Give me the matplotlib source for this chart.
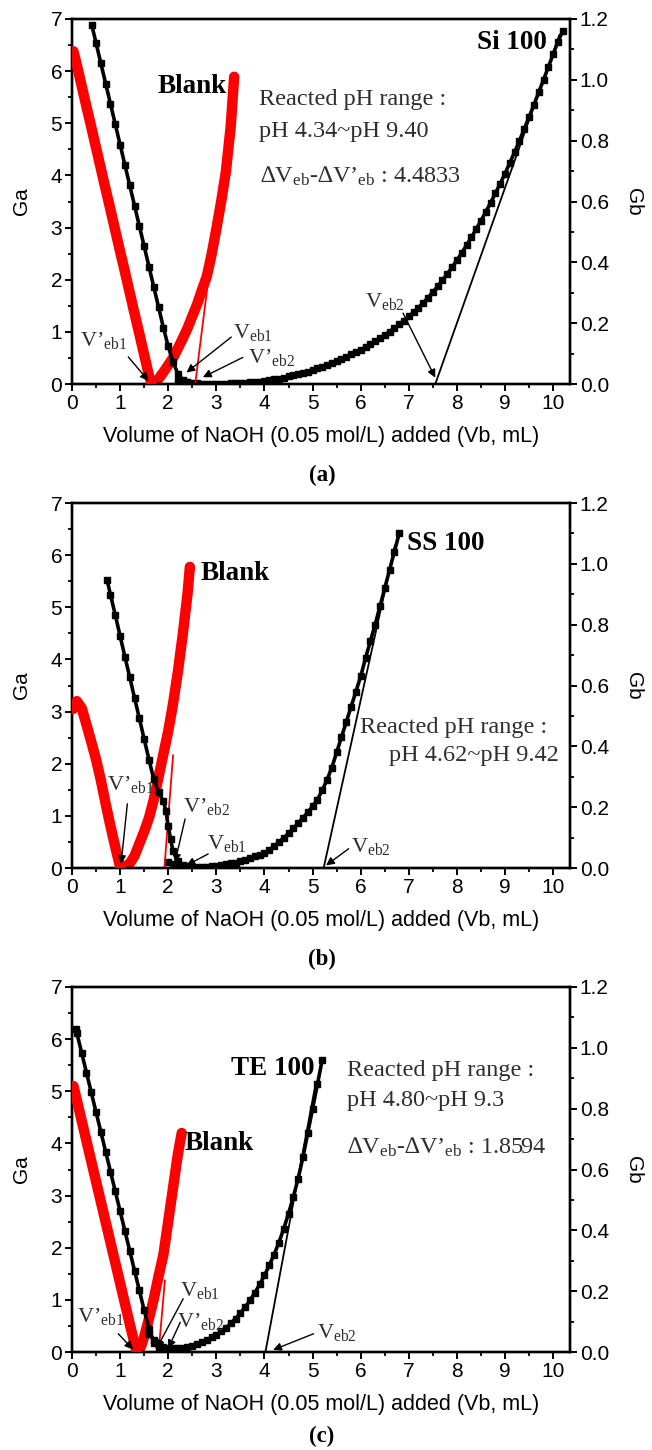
import numpy as np
import matplotlib
matplotlib.use("Agg")
import matplotlib.pyplot as plt
from matplotlib.ticker import MultipleLocator, FormatStrFormatter

plt.rcParams['font.family'] = ['Liberation Sans', 'DejaVu Sans']
plt.rcParams['mathtext.fontset'] = 'custom'
plt.rcParams['mathtext.rm'] = 'Liberation Serif'

SERIF = ['Liberation Serif', 'DejaVu Serif']
GREY = '#2e2e2e'

# ---------------- panel (a): Si 100 ----------------
a_blank_ga_x = [0.03, 0.1, 0.2, 0.3, 0.4, 0.5, 0.6, 0.7, 0.8, 0.9, 1.0, 1.1, 1.2, 1.3, 1.4, 1.5, 1.6, 1.65]
a_blank_ga = [6.38, 6.12, 5.72, 5.32, 4.93, 4.53, 4.13, 3.73, 3.34, 2.94, 2.54, 2.15, 1.75, 1.35, 0.96, 0.56, 0.16, 0.02]
a_blank_gb_x = [1.72, 1.8, 1.9, 2.0, 2.1, 2.2, 2.3, 2.4, 2.5, 2.6, 2.7, 2.8, 2.9, 3.0, 3.1, 3.2, 3.3, 3.37]
a_blank_gb = [0.0, 0.017, 0.039, 0.062, 0.086, 0.117, 0.149, 0.183, 0.223, 0.262, 0.309, 0.353, 0.425,
              0.51, 0.6, 0.7, 0.85, 1.01]
a_sample_ga_x = [0.41, 0.5, 0.6, 0.7, 0.8, 0.9, 1.0, 1.1, 1.2, 1.3, 1.4, 1.5, 1.6, 1.7, 1.8, 1.9, 2.0, 2.1,
                 2.2, 2.3, 2.4]
a_sample_ga = [6.89, 6.54, 6.15, 5.76, 5.37, 4.98, 4.59, 4.20, 3.81, 3.42, 3.03, 2.64, 2.25, 1.86, 1.47,
               1.08, 0.72, 0.42, 0.2, 0.08, 0.03]
a_sample_gb_x = np.round(np.arange(2.2, 10.25, 0.1), 1)  # titration volumes, 0.1 mL steps
a_sample_gb = [0.012, 0.008, 0.005, 0.003, 0.002, 0.001, 0.001, 0.001, 0.001, 0.001,
               0.001, 0.002, 0.002, 0.003, 0.004, 0.005, 0.006, 0.008, 0.010, 0.012,
               0.015, 0.018, 0.021, 0.025, 0.029, 0.033, 0.037, 0.041, 0.046, 0.051,
               0.057, 0.063, 0.069, 0.076, 0.083, 0.090, 0.097, 0.104, 0.112, 0.121,
               0.130, 0.140, 0.150, 0.161, 0.172, 0.184, 0.196, 0.208, 0.222, 0.236,
               0.251, 0.267, 0.284, 0.302, 0.321, 0.341, 0.362, 0.384, 0.407, 0.431,
               0.456, 0.482, 0.509, 0.537, 0.566, 0.596, 0.627, 0.659, 0.692, 0.727,
               0.763, 0.800, 0.839, 0.878, 0.918, 0.959, 1.000, 1.042, 1.084, 1.126,
               1.160]
a_tan_x, a_tan_gb = [7.55, 10.13], [0.0, 1.148]
a_btan_x, a_btan_gb = [2.56, 2.86], [0.0, 0.377]

# ---------------- panel (b): SS 100 ----------------
b_blank_ga_x = [0.02, 0.1, 0.2, 0.3, 0.4, 0.5, 0.6, 0.7, 0.8, 0.9, 1.0]
b_blank_ga = [3.05, 3.2, 3.07, 2.75, 2.42, 2.08, 1.68, 1.23, 0.8, 0.4, 0.02]
b_blank_gb_x = [1.05, 1.1, 1.2, 1.3, 1.4, 1.5, 1.6, 1.7, 1.8, 1.9, 2.0, 2.1, 2.2, 2.3, 2.4, 2.45]
b_blank_gb = [0.003, 0.005, 0.015, 0.04, 0.08, 0.12, 0.165, 0.225, 0.3, 0.375, 0.45, 0.54, 0.645, 0.765,
              0.9, 0.99]
b_sample_ga_x = [0.73, 0.8, 0.9, 1.0, 1.1, 1.2, 1.3, 1.4, 1.5, 1.6, 1.7, 1.8, 1.9, 1.95, 2.0, 2.05, 2.1,
                 2.2, 2.3, 2.4]
b_sample_ga = [5.52, 5.24, 4.85, 4.45, 4.05, 3.66, 3.26, 2.87, 2.47, 2.08, 1.7, 1.45, 1.28, 1.1, 0.8,
               0.55, 0.32, 0.14, 0.06, 0.03]
b_sample_gb_x = np.round(np.arange(2.0, 6.85, 0.1), 1)
b_sample_gb = [0.02, 0.012, 0.008, 0.005, 0.004, 0.003, 0.003, 0.003, 0.004, 0.005,
               0.007, 0.009, 0.012, 0.015, 0.018, 0.022, 0.027, 0.032, 0.038, 0.044,
               0.05, 0.06, 0.072, 0.085, 0.099, 0.114, 0.13, 0.147, 0.165, 0.183,
               0.203, 0.225, 0.255, 0.29, 0.33, 0.38, 0.43, 0.48, 0.53, 0.58,
               0.63, 0.69, 0.745, 0.8, 0.86, 0.92, 0.98, 1.04, 1.10]
b_tan_x, b_tan_gb = [5.23, 6.71], [0.0, 1.06]
b_btan_x, b_btan_gb = [1.92, 2.1], [0.0, 0.37]

# ---------------- panel (c): TE 100 ----------------
c_blank_ga_x = [0.03, 0.1, 0.2, 0.3, 0.4, 0.5, 0.6, 0.7, 0.8, 0.9, 1.0, 1.1, 1.2, 1.3, 1.34]
c_blank_ga = [5.1, 4.83, 4.44, 4.05, 3.66, 3.27, 2.88, 2.49, 2.1, 1.71, 1.32, 0.93, 0.54, 0.16, 0.02]
c_blank_gb_x = [1.38, 1.45, 1.5, 1.6, 1.7, 1.8, 1.9, 2.0, 2.1, 2.2, 2.28]
c_blank_gb = [0.0, 0.025, 0.05, 0.11, 0.175, 0.25, 0.32, 0.43, 0.54, 0.65, 0.72]
c_sample_ga_x = [0.08, 0.1, 0.2, 0.3, 0.4, 0.5, 0.6, 0.7, 0.8, 0.9, 1.0, 1.1, 1.2, 1.3, 1.4, 1.5, 1.6,
                 1.7, 1.8]
c_sample_ga = [6.2, 6.12, 5.74, 5.36, 4.98, 4.6, 4.22, 3.84, 3.46, 3.08, 2.7, 2.32, 1.94, 1.56, 1.18,
               0.8, 0.45, 0.18, 0.06]
c_sample_gb_x = np.round(np.arange(1.6, 5.25, 0.1), 1)
c_sample_gb = [0.06, 0.04, 0.025, 0.017, 0.013, 0.012, 0.012, 0.014, 0.017, 0.021,
               0.026, 0.032, 0.04, 0.048, 0.057, 0.068, 0.08, 0.094, 0.11, 0.128,
               0.148, 0.17, 0.195, 0.222, 0.252, 0.285, 0.32, 0.36, 0.405, 0.455,
               0.51, 0.57, 0.64, 0.72, 0.8, 0.88, 0.96]
c_tan_x, c_tan_gb = [4.02, 5.06], [0.0, 0.88]
c_btan_x, c_btan_gb = [1.8, 1.93], [0.0, 0.235]

x_ticks = list(range(0, 11))
ga_ticks = list(range(0, 8))
gb_ticks = [0.0, 0.2, 0.4, 0.6, 0.8, 1.0, 1.2]
xlabel = 'Volume of NaOH (0.05 mol/L) added (Vb, mL)'

VP1 = r'$\mathregular{V’_{eb1}}$'
VP2 = r'$\mathregular{V’_{eb2}}$'
V1 = r'$\mathregular{V_{eb1}}$'
V2 = r'$\mathregular{V_{eb2}}$'
DELTA = r'∆$\mathregular{V_{eb}}$-∆$\mathregular{V’_{eb}}$ : '

fig = plt.figure(figsize=(6.52, 14.5), dpi=100)

L, W, H = 72 / 652, 498 / 652, 365 / 1450


def make_panel(top_px, letter, blank, sample, tan, btan, letter_gap=91):
    ax = fig.add_axes([L, 1 - (top_px + 365) / 1450, W, H])
    ax2 = ax.twinx()
    ax.set_zorder(ax2.get_zorder() + 1)
    ax.patch.set_visible(False)

    bx1, by1, bx2, by2 = blank
    sx1, sy1, sx2, sy2 = sample
    # sample (black squares)
    ax2.plot(sx2, sy2, color='black', lw=2.6, marker='s', ms=4.6, zorder=3)
    ax.plot(sx1, sy1, color='black', lw=2.6, marker='s', ms=4.6, zorder=4)
    # blank (thick red)
    ax.plot(bx1, by1, color='#ff0000', lw=7.5, solid_capstyle='round', zorder=3)
    ax2.plot(bx2, by2, color='#ff0000', lw=7.5, solid_capstyle='round', zorder=2)
    # extrapolated tangents
    ax2.plot(tan[0], tan[1], color='black', lw=1.3, zorder=4)
    ax2.plot(btan[0], btan[1], color='#ff0000', lw=1.3, zorder=4)

    ax.set_xlim(0, 10.35)
    ax.set_ylim(0, 7)
    ax2.set_ylim(0, 1.2)
    ax.set_xticks(x_ticks)
    ax.set_yticks(ga_ticks)
    ax2.set_yticks(gb_ticks)
    ax.xaxis.set_minor_locator(MultipleLocator(0.5))
    ax.yaxis.set_minor_locator(MultipleLocator(0.5))
    ax2.yaxis.set_minor_locator(MultipleLocator(0.1))
    ax2.yaxis.set_major_formatter(FormatStrFormatter('%.1f'))
    for a in (ax, ax2):
        a.tick_params(which='major', direction='out', length=5, width=1.4, labelsize=15, pad=2)
        a.tick_params(which='minor', direction='out', length=3, width=1.3)
        for s in a.spines.values():
            s.set_linewidth(1.7)

    ax.set_ylabel('Ga', fontsize=15)
    ax.yaxis.set_label_coords(-0.082, 0.5)
    ax2.set_ylabel('Gb', fontsize=15, rotation=270, va='center')
    ax2.yaxis.set_label_coords(1.127, 0.5)
    ax.set_xlabel(xlabel, fontsize=15.5)
    ax.xaxis.set_label_coords(0.5, -0.145)
    ax.xaxis.label.set_va('center')

    fig.text(0.494, 1 - (top_px + 365 + letter_gap) / 1450, letter, fontsize=16.5, fontweight='bold',
             family=SERIF, ha='center', va='center')
    return ax


def vlabel(ax, text, pos, tail, tip):
    ax.text(pos[0], pos[1], text, family=SERIF, fontsize=16, color=GREY, ha='left', va='baseline')
    ax.annotate('', xy=tip, xytext=tail,
                arrowprops=dict(arrowstyle='-|>', color='black', lw=1.0, mutation_scale=12,
                                shrinkA=0, shrinkB=0), zorder=6)


def note(ax, text, x, y, ha='left', size=17.5, bold=False, color=GREY):
    ax.text(x, y, text, family=SERIF, fontsize=size, color=color, ha=ha, va='center',
            fontweight='bold' if bold else 'normal')


# (a)
ax = make_panel(19, '(a)',
                (a_blank_ga_x, a_blank_ga, a_blank_gb_x, a_blank_gb),
                (a_sample_ga_x, a_sample_ga, a_sample_gb_x, a_sample_gb),
                (a_tan_x, a_tan_gb), (a_btan_x, a_btan_gb))
note(ax, 'Blank', 1.77, 5.7, size=19.5, bold=True, color='black')
note(ax, 'Si 100', 9.87, 6.54, ha='right', size=19.5, bold=True, color='black')
note(ax, 'Reacted pH range :', 3.88, 5.45)
note(ax, 'pH 4.34~pH 9.40', 3.88, 4.84)
note(ax, DELTA + '4.4833', 3.9, 3.98)
vlabel(ax, VP1, (0.17, 0.72), (1.17, 0.52), (1.59, 0.06))
vlabel(ax, V1, (3.34, 0.88), (3.31, 0.9), (2.38, 0.22))
vlabel(ax, VP2, (3.66, 0.4), (3.55, 0.51), (2.72, 0.13))
vlabel(ax, V2, (6.09, 1.48), (6.88, 1.36), (7.55, 0.12))

# (b)
ax = make_panel(503, '(b)',
                (b_blank_ga_x, b_blank_ga, b_blank_gb_x, b_blank_gb),
                (b_sample_ga_x, b_sample_ga, b_sample_gb_x, b_sample_gb),
                (b_tan_x, b_tan_gb), (b_btan_x, b_btan_gb))
note(ax, 'Blank', 2.68, 5.65, size=19.5, bold=True, color='black')
note(ax, 'SS 100', 6.97, 6.22, size=19.5, bold=True, color='black')
note(ax, 'Reacted pH range :', 9.87, 2.7, ha='right')
note(ax, 'pH 4.62~pH 9.42', 10.12, 2.15, ha='right')
vlabel(ax, VP1, (0.72, 1.49), (1.15, 1.23), (1.02, 0.08))
vlabel(ax, VP2, (2.31, 1.07), (2.35, 0.94), (2.14, 0.11))
vlabel(ax, V1, (2.8, 0.37), (2.83, 0.27), (2.38, 0.05))
vlabel(ax, V2, (5.8, 0.31), (5.75, 0.37), (5.28, 0.05))

# (c)
ax = make_panel(987, '(c)',
                (c_blank_ga_x, c_blank_ga, c_blank_gb_x, c_blank_gb),
                (c_sample_ga_x, c_sample_ga, c_sample_gb_x, c_sample_gb),
                (c_tan_x, c_tan_gb), (c_btan_x, c_btan_gb), letter_gap=84)
note(ax, 'Blank', 2.33, 4.0, size=19.5, bold=True, color='black')
note(ax, 'TE 100', 5.04, 5.43, ha='right', size=19.5, bold=True, color='black')
note(ax, 'Reacted pH range :', 5.71, 5.4)
note(ax, 'pH 4.80~pH 9.3', 5.71, 4.83)
note(ax, DELTA + '1.8594', 5.71, 3.93)
vlabel(ax, VP1, (0.1, 0.57), (0.96, 0.35), (1.27, 0.05))
vlabel(ax, V1, (2.25, 1.08), (2.31, 1.02), (1.76, 0.07))
vlabel(ax, VP2, (2.18, 0.48), (2.25, 0.57), (2.0, 0.07))
vlabel(ax, V2, (5.1, 0.26), (5.02, 0.35), (4.18, 0.04))

fig.savefig('out.png', dpi=100)
